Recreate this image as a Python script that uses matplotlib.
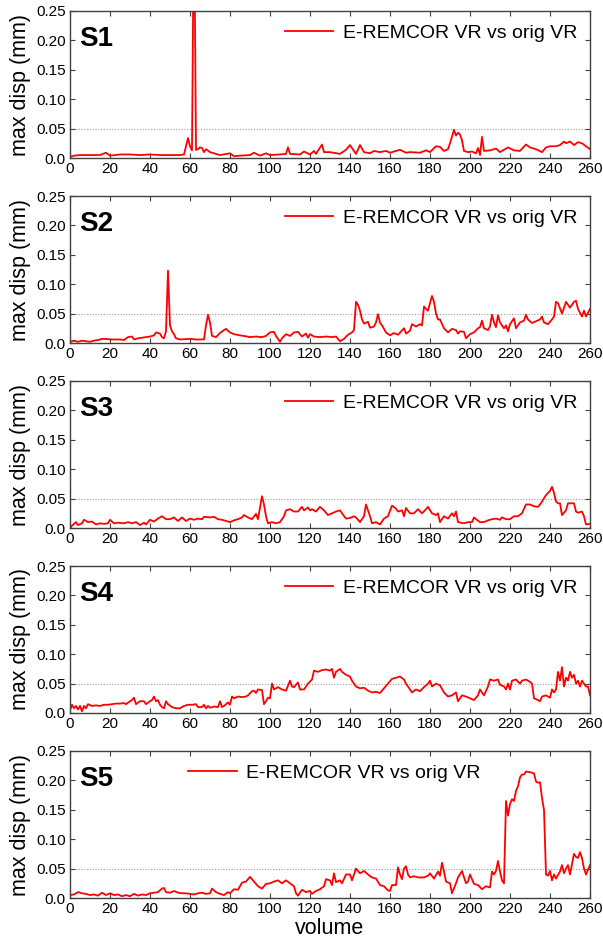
"""
Max displacement per volume, E-REMCOR VR vs orig VR, five subjects (S1..S5).
Values read off the reference picture.
"""
import numpy as np
import matplotlib
matplotlib.use("Agg")
import matplotlib.pyplot as plt

matplotlib.rcParams.update({
    "font.family": ["Liberation Sans", "DejaVu Sans"],
    "xtick.direction": "in", "ytick.direction": "in",
    "xtick.top": True, "ytick.right": True,
    "xtick.major.size": 3.5, "ytick.major.size": 3.5,
    "xtick.labelsize": 11, "ytick.labelsize": 11,
})
RED = "#ff0000"
LEGEND_LABEL = "E-REMCOR VR vs orig VR"
SUBJECTS = ["S1", "S2", "S3", "S4", "S5"]
X_TICKS = np.arange(0, 261, 20)
Y_TICKS = [0.0, 0.05, 0.10, 0.15, 0.20, 0.25]
Y_TICKLABELS = ["0.0", "0.05", "0.10", "0.15", "0.20", "0.25"]

# ---- S1 ----
s1_x = [0, 2, 5, 10, 15, 18, 20, 25, 30, 35, 40, 45, 50, 55, 57, 59, 60, 61, 62, 63,
        64, 65, 66, 67, 68, 70, 72, 75, 80, 82, 85, 90, 92, 95, 98, 100, 105, 108, 109, 110,
        115, 117, 120, 122, 123, 126, 127, 130, 135, 138, 140, 142, 143, 145, 147, 150, 152, 155, 158, 160,
        165, 168, 170, 175, 178, 180, 183, 185, 187, 189, 190, 192, 193, 194, 195, 196, 197, 199, 201, 203,
        204, 205, 206, 207, 210, 213, 215, 219, 222, 225, 228, 230, 233, 236, 238, 240, 243, 245, 247, 248,
        250, 252, 254, 256, 258, 260]
s1_y = [0.002, 0.004, 0.005, 0.005, 0.005, 0.009, 0.004, 0.006, 0.006, 0.005, 0.006, 0.005, 0.005, 0.005, 0.006, 0.034, 0.020, 0.013, 0.450, 0.014,
        0.015, 0.018, 0.017, 0.010, 0.015, 0.010, 0.008, 0.005, 0.008, 0.003, 0.004, 0.005, 0.009, 0.004, 0.008, 0.005, 0.006, 0.007, 0.018, 0.007,
        0.006, 0.011, 0.006, 0.012, 0.007, 0.023, 0.010, 0.010, 0.007, 0.014, 0.022, 0.012, 0.007, 0.022, 0.010, 0.008, 0.012, 0.010, 0.012, 0.009,
        0.014, 0.009, 0.010, 0.009, 0.013, 0.010, 0.020, 0.019, 0.012, 0.015, 0.025, 0.048, 0.038, 0.043, 0.040, 0.030, 0.012, 0.010, 0.011, 0.008,
        0.017, 0.005, 0.036, 0.012, 0.013, 0.016, 0.010, 0.018, 0.013, 0.012, 0.023, 0.018, 0.015, 0.010, 0.018, 0.020, 0.020, 0.022, 0.028, 0.025,
        0.028, 0.022, 0.027, 0.025, 0.020, 0.015]

# ---- S2 ----
s2_x = [0, 2, 4, 6, 8, 10, 12, 14, 16, 18, 20, 22, 25, 27, 29, 31, 32, 34, 36, 38,
        40, 42, 43, 45, 46, 47, 48, 49, 50, 51, 52, 53, 55, 60, 63, 65, 67, 68, 69, 70,
        71, 73, 75, 77, 78, 80, 82, 85, 87, 90, 93, 96, 98, 100, 102, 103, 105, 106, 108, 110,
        112, 114, 116, 118, 119, 120, 122, 125, 128, 131, 133, 135, 137, 139, 141, 142, 143, 144, 145, 146,
        147, 149, 150, 152, 153, 154, 155, 156, 158, 160, 162, 164, 167, 168, 170, 171, 173, 175, 176, 177,
        178, 179, 181, 182, 183, 184, 185, 187, 189, 191, 193, 194, 195, 197, 198, 200, 202, 204, 205, 206,
        207, 209, 210, 211, 212, 213, 214, 215, 217, 218, 219, 220, 222, 223, 225, 227, 228, 229, 231, 233,
        235, 236, 237, 239, 241, 242, 243, 244, 246, 248, 250, 252, 253, 254, 256, 257, 258, 260]
s2_y = [0.002, 0.004, 0.002, 0.004, 0.003, 0.002, 0.004, 0.005, 0.007, 0.007, 0.006, 0.006, 0.006, 0.005, 0.010, 0.011, 0.006, 0.008, 0.009, 0.010,
        0.011, 0.013, 0.018, 0.016, 0.010, 0.008, 0.020, 0.123, 0.030, 0.020, 0.015, 0.008, 0.006, 0.007, 0.006, 0.006, 0.006, 0.030, 0.048, 0.035,
        0.012, 0.010, 0.017, 0.022, 0.024, 0.018, 0.015, 0.013, 0.012, 0.010, 0.011, 0.010, 0.012, 0.018, 0.019, 0.012, 0.002, 0.008, 0.015, 0.012,
        0.018, 0.019, 0.011, 0.016, 0.009, 0.015, 0.011, 0.010, 0.011, 0.010, 0.011, 0.003, 0.007, 0.014, 0.018, 0.022, 0.070, 0.065, 0.055, 0.040,
        0.033, 0.036, 0.026, 0.028, 0.035, 0.049, 0.035, 0.030, 0.018, 0.013, 0.017, 0.014, 0.025, 0.016, 0.021, 0.032, 0.028, 0.032, 0.030, 0.062,
        0.058, 0.055, 0.080, 0.070, 0.050, 0.040, 0.040, 0.025, 0.018, 0.024, 0.022, 0.016, 0.020, 0.019, 0.008, 0.015, 0.018, 0.025, 0.027, 0.038,
        0.025, 0.022, 0.028, 0.048, 0.035, 0.027, 0.047, 0.035, 0.025, 0.030, 0.020, 0.032, 0.042, 0.025, 0.035, 0.038, 0.048, 0.040, 0.034, 0.037,
        0.040, 0.045, 0.035, 0.032, 0.040, 0.045, 0.070, 0.068, 0.050, 0.070, 0.060, 0.070, 0.072, 0.058, 0.045, 0.055, 0.045, 0.058]

# ---- S3 ----
s3_x = [0, 1, 3, 4, 6, 7, 9, 11, 13, 15, 17, 19, 20, 22, 24, 27, 29, 31, 33, 35,
        37, 38, 40, 42, 44, 46, 48, 50, 52, 54, 56, 58, 60, 62, 64, 66, 67, 70, 72, 74,
        76, 78, 80, 82, 84, 86, 87, 89, 91, 93, 94, 95, 96, 97, 98, 99, 101, 103, 105, 107,
        108, 110, 112, 114, 116, 117, 119, 120, 121, 123, 125, 127, 129, 131, 133, 135, 136, 138, 140, 142,
        143, 145, 147, 148, 150, 151, 153, 155, 157, 159, 161, 163, 164, 166, 167, 168, 170, 172, 174, 176,
        178, 179, 181, 183, 184, 185, 187, 189, 191, 192, 193, 194, 197, 199, 201, 202, 203, 205, 207, 209,
        211, 213, 215, 216, 218, 220, 222, 224, 226, 228, 230, 232, 234, 235, 236, 238, 240, 241, 242, 243,
        244, 245, 246, 248, 249, 250, 252, 253, 254, 256, 257, 258, 260]
s3_y = [0.000, 0.004, 0.010, 0.005, 0.008, 0.014, 0.010, 0.011, 0.006, 0.008, 0.007, 0.008, 0.014, 0.008, 0.009, 0.008, 0.010, 0.008, 0.010, 0.005,
        0.009, 0.006, 0.014, 0.011, 0.016, 0.020, 0.015, 0.015, 0.018, 0.012, 0.018, 0.012, 0.016, 0.014, 0.016, 0.015, 0.019, 0.018, 0.019, 0.015,
        0.014, 0.012, 0.010, 0.013, 0.015, 0.018, 0.022, 0.018, 0.015, 0.024, 0.015, 0.035, 0.054, 0.040, 0.020, 0.008, 0.010, 0.008, 0.010, 0.020,
        0.030, 0.032, 0.028, 0.028, 0.036, 0.030, 0.035, 0.030, 0.032, 0.028, 0.036, 0.030, 0.022, 0.025, 0.028, 0.030, 0.025, 0.016, 0.017, 0.020,
        0.018, 0.010, 0.020, 0.040, 0.020, 0.008, 0.010, 0.006, 0.016, 0.020, 0.038, 0.033, 0.028, 0.030, 0.020, 0.034, 0.025, 0.025, 0.032, 0.025,
        0.032, 0.036, 0.025, 0.022, 0.025, 0.010, 0.020, 0.016, 0.025, 0.020, 0.028, 0.010, 0.008, 0.010, 0.010, 0.018, 0.015, 0.010, 0.010, 0.013,
        0.015, 0.016, 0.014, 0.018, 0.015, 0.015, 0.020, 0.020, 0.025, 0.040, 0.040, 0.037, 0.036, 0.040, 0.045, 0.056, 0.063, 0.070, 0.060, 0.045,
        0.042, 0.042, 0.022, 0.030, 0.042, 0.042, 0.042, 0.028, 0.026, 0.028, 0.020, 0.006, 0.007]

# ---- S4 ----
s4_x = [0, 1, 2, 3, 4, 5, 6, 7, 8, 9, 11, 13, 15, 17, 19, 21, 23, 25, 27, 28,
        30, 31, 32, 33, 35, 37, 38, 40, 41, 42, 43, 44, 45, 46, 47, 48, 49, 51, 53, 55,
        57, 59, 61, 63, 64, 66, 67, 68, 69, 70, 72, 74, 75, 76, 77, 79, 80, 81, 82, 84,
        86, 88, 89, 91, 92, 93, 94, 96, 97, 98, 99, 100, 101, 102, 104, 106, 108, 110, 111, 112,
        114, 115, 117, 119, 121, 122, 124, 126, 128, 130, 131, 132, 133, 135, 136, 138, 140, 141, 143, 145,
        147, 149, 151, 153, 155, 157, 159, 161, 163, 165, 167, 168, 170, 171, 173, 175, 177, 179, 180, 181,
        183, 185, 187, 189, 191, 193, 194, 196, 198, 200, 202, 204, 205, 207, 209, 210, 212, 214, 215, 217,
        218, 219, 220, 221, 223, 225, 226, 228, 230, 231, 232, 234, 235, 236, 238, 240, 241, 242, 243, 244,
        245, 246, 247, 248, 249, 250, 251, 252, 253, 254, 255, 256, 258, 259, 260]
s4_y = [0.005, 0.014, 0.008, 0.012, 0.006, 0.012, 0.003, 0.012, 0.008, 0.015, 0.012, 0.013, 0.012, 0.014, 0.014, 0.015, 0.016, 0.016, 0.017, 0.015,
        0.020, 0.022, 0.026, 0.015, 0.020, 0.020, 0.015, 0.020, 0.022, 0.028, 0.020, 0.022, 0.014, 0.010, 0.008, 0.020, 0.015, 0.010, 0.008, 0.008,
        0.012, 0.014, 0.014, 0.015, 0.010, 0.010, 0.014, 0.008, 0.012, 0.009, 0.011, 0.010, 0.020, 0.010, 0.012, 0.018, 0.014, 0.028, 0.025, 0.028,
        0.027, 0.028, 0.030, 0.037, 0.038, 0.034, 0.040, 0.039, 0.015, 0.020, 0.026, 0.025, 0.050, 0.040, 0.044, 0.040, 0.038, 0.055, 0.045, 0.044,
        0.052, 0.040, 0.040, 0.050, 0.057, 0.072, 0.070, 0.073, 0.074, 0.072, 0.075, 0.060, 0.070, 0.075, 0.070, 0.065, 0.062, 0.055, 0.045, 0.042,
        0.043, 0.038, 0.035, 0.036, 0.034, 0.042, 0.050, 0.058, 0.060, 0.062, 0.057, 0.050, 0.040, 0.035, 0.040, 0.037, 0.044, 0.050, 0.055, 0.045,
        0.050, 0.047, 0.035, 0.028, 0.030, 0.035, 0.020, 0.030, 0.028, 0.025, 0.022, 0.030, 0.040, 0.030, 0.045, 0.057, 0.055, 0.057, 0.048, 0.045,
        0.040, 0.050, 0.040, 0.055, 0.057, 0.050, 0.055, 0.057, 0.053, 0.050, 0.025, 0.022, 0.020, 0.028, 0.030, 0.026, 0.040, 0.035, 0.040, 0.070,
        0.055, 0.078, 0.045, 0.060, 0.055, 0.070, 0.060, 0.065, 0.050, 0.055, 0.045, 0.055, 0.045, 0.045, 0.030]

# ---- S5 ----
s5_x = [0, 2, 4, 6, 8, 10, 12, 14, 16, 18, 20, 22, 24, 26, 28, 30, 32, 34, 36, 38,
        40, 42, 44, 46, 47, 48, 50, 52, 54, 56, 58, 60, 62, 64, 66, 68, 70, 71, 73, 75,
        77, 79, 80, 82, 84, 85, 86, 88, 90, 92, 94, 96, 98, 100, 102, 104, 106, 108, 110, 112,
        113, 114, 116, 118, 120, 121, 123, 125, 127, 128, 130, 131, 132, 133, 135, 136, 138, 140, 141, 143,
        145, 147, 149, 151, 153, 155, 157, 159, 160, 161, 163, 164, 165, 166, 167, 168, 169, 170, 172, 174,
        177, 179, 180, 182, 184, 185, 186, 187, 188, 190, 191, 193, 194, 196, 198, 199, 200, 202, 204, 206,
        208, 210, 211, 212, 213, 214, 215, 216, 217, 218, 219, 220, 221, 222, 223, 224, 225, 226, 227, 228,
        230, 232, 233, 234, 235, 236, 237, 238, 239, 240, 241, 242, 243, 245, 246, 247, 248, 249, 250, 252,
        253, 254, 255, 256, 257, 258, 259, 260]
s5_y = [0.005, 0.006, 0.010, 0.008, 0.007, 0.005, 0.006, 0.004, 0.009, 0.005, 0.008, 0.005, 0.006, 0.003, 0.005, 0.003, 0.007, 0.004, 0.006, 0.005,
        0.008, 0.009, 0.010, 0.016, 0.017, 0.010, 0.009, 0.012, 0.009, 0.008, 0.008, 0.007, 0.006, 0.008, 0.009, 0.007, 0.008, 0.016, 0.010, 0.007,
        0.005, 0.010, 0.008, 0.015, 0.014, 0.020, 0.026, 0.028, 0.036, 0.028, 0.020, 0.016, 0.024, 0.025, 0.028, 0.030, 0.025, 0.030, 0.025, 0.020,
        0.008, 0.004, 0.014, 0.010, 0.012, 0.007, 0.012, 0.015, 0.020, 0.032, 0.030, 0.022, 0.042, 0.027, 0.030, 0.025, 0.040, 0.040, 0.030, 0.050,
        0.042, 0.046, 0.040, 0.035, 0.033, 0.022, 0.020, 0.013, 0.012, 0.022, 0.022, 0.052, 0.040, 0.032, 0.050, 0.054, 0.040, 0.035, 0.037, 0.035,
        0.035, 0.038, 0.042, 0.033, 0.045, 0.038, 0.060, 0.045, 0.028, 0.025, 0.008, 0.025, 0.035, 0.046, 0.025, 0.028, 0.040, 0.024, 0.022, 0.015,
        0.020, 0.018, 0.045, 0.040, 0.046, 0.063, 0.045, 0.030, 0.025, 0.165, 0.140, 0.160, 0.168, 0.165, 0.182, 0.190, 0.205, 0.210, 0.210, 0.215,
        0.214, 0.212, 0.198, 0.196, 0.197, 0.170, 0.150, 0.040, 0.038, 0.046, 0.030, 0.040, 0.033, 0.045, 0.056, 0.042, 0.050, 0.056, 0.040, 0.075,
        0.070, 0.068, 0.078, 0.068, 0.050, 0.040, 0.048, 0.056]

series = [(s1_x, s1_y), (s2_x, s2_y), (s3_x, s3_y), (s4_x, s4_y), (s5_x, s5_y)]
legend_x = [0.413, 0.413, 0.413, 0.413, 0.227]

W, H = 603, 948
fig = plt.figure(figsize=(W / 100, H / 100), dpi=100)

for i, ((xs, ys), name) in enumerate(zip(series, SUBJECTS)):
    top = 11 + 185 * i
    ax = fig.add_axes([70 / W, 1 - (top + 147) / H, 520 / W, 147 / H])
    ax.axhline(0.05, color="0.6", lw=0.8, ls=(0, (1, 1.5)), zorder=1)
    ax.plot(xs, ys, color=RED, lw=1.3, label=LEGEND_LABEL, zorder=2)
    ax.set_xlim(0, 260)
    ax.set_ylim(0, 0.25)
    ax.set_xticks(X_TICKS)
    ax.set_yticks(Y_TICKS)
    ax.set_yticklabels(Y_TICKLABELS)
    for s in ax.spines.values():
        s.set_color("0.25")
        s.set_linewidth(1.0)
    ax.tick_params(colors="0.25", labelcolor="black", pad=3)
    ax.set_ylabel("max disp (mm)", fontsize=15.5, labelpad=4)
    ax.text(0.018, 0.81, name, transform=ax.transAxes, fontsize=20,
            fontweight="bold", va="center", ha="left")
    ax.legend(loc="center left", bbox_to_anchor=(legend_x[i], 0.85),
              frameon=False, fontsize=14, handlelength=2.5,
              handletextpad=0.5, borderpad=0, borderaxespad=0)
    if i == 4:
        ax.set_xlabel("volume", fontsize=15.5, labelpad=1)

fig.savefig("out.png", dpi=100)
